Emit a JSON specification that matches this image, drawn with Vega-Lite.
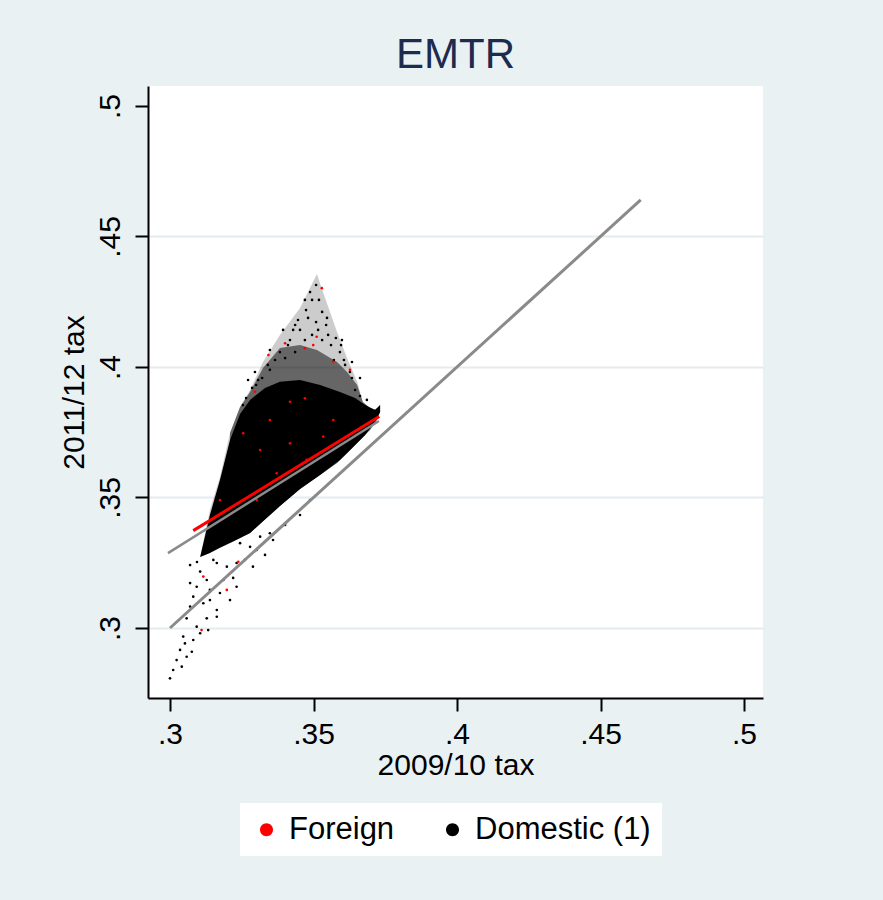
{
  "$schema": "https://vega.github.io/schema/vega-lite/v6.json",
  "width": 615, "height": 612,
  "autosize": {"type": "none"},
  "padding": {"left": 148, "top": 86, "right": 120, "bottom": 202},
  "background": "#E9F1F3",
  "title": {"text": "EMTR", "fontSize": 42, "font": "Liberation Sans", "fontWeight": "normal",
            "color": "#1C2B4E", "anchor": "middle", "offset": 9},
  "config": {
    "view": {"fill": "white", "stroke": null},
    "axis": {"domainColor": "black", "domainWidth": 2, "tickColor": "black", "tickWidth": 2, "tickSize": 13,
             "labelFont": "Liberation Sans", "labelFontSize": 30, "labelColor": "black",
             "titleFont": "Liberation Sans", "titleFontSize": 30, "titleFontWeight": "normal", "titleColor": "black"},
    "legend": {"orient": "none", "legendX": 92, "legendY": 717, "direction": "horizontal",
               "fillColor": "white", "padding": 11, "labelFont": "Liberation Sans", "labelFontSize": 31,
               "labelColor": "black", "labelLimit": 500,
               "symbolType": "M-1.3,0A1.3,1.3 0 1,0 1.3,0A1.3,1.3 0 1,0 -1.3,0",
               "labelOffset": 7, "columnPadding": 42, "symbolStrokeWidth": 0}
  },
  "datasets": {
    "speckle": [
      {"x": 0.3105, "y": 0.3272, "y2": 0.3272},
      {"x": 0.3139, "y": 0.3452, "y2": 0.3287},
      {"x": 0.3174, "y": 0.3579, "y2": 0.3307},
      {"x": 0.3209, "y": 0.3747, "y2": 0.3326},
      {"x": 0.3244, "y": 0.3847, "y2": 0.3345},
      {"x": 0.3279, "y": 0.3912, "y2": 0.3364},
      {"x": 0.3324, "y": 0.4019, "y2": 0.3410},
      {"x": 0.3383, "y": 0.4123, "y2": 0.3467},
      {"x": 0.3453, "y": 0.4226, "y2": 0.3533},
      {"x": 0.3512, "y": 0.4356, "y2": 0.3579},
      {"x": 0.3533, "y": 0.4287, "y2": 0.3594},
      {"x": 0.3582, "y": 0.4134, "y2": 0.3632},
      {"x": 0.3617, "y": 0.4034, "y2": 0.3670},
      {"x": 0.3652, "y": 0.3943, "y2": 0.3709},
      {"x": 0.3672, "y": 0.3866, "y2": 0.3732},
      {"x": 0.3697, "y": 0.3843, "y2": 0.3759},
      {"x": 0.3721, "y": 0.3835, "y2": 0.3797},
      {"x": 0.3732, "y": 0.3854, "y2": 0.3828}
    ],
    "mid": [
      {"x": 0.3209, "y": 0.3747, "y2": 0.3326},
      {"x": 0.3244, "y": 0.3847, "y2": 0.3345},
      {"x": 0.3279, "y": 0.3904, "y2": 0.3364},
      {"x": 0.3324, "y": 0.3996, "y2": 0.3410},
      {"x": 0.3383, "y": 0.4073, "y2": 0.3467},
      {"x": 0.3453, "y": 0.4084, "y2": 0.3533},
      {"x": 0.3512, "y": 0.4065, "y2": 0.3579},
      {"x": 0.3582, "y": 0.4019, "y2": 0.3632},
      {"x": 0.3617, "y": 0.3981, "y2": 0.3670},
      {"x": 0.3652, "y": 0.3931, "y2": 0.3709},
      {"x": 0.3672, "y": 0.3866, "y2": 0.3732},
      {"x": 0.3697, "y": 0.3843, "y2": 0.3759},
      {"x": 0.3721, "y": 0.3835, "y2": 0.3797},
      {"x": 0.3732, "y": 0.3854, "y2": 0.3828}
    ],
    "dense": [
      {"x": 0.3105, "y": 0.3272, "y2": 0.3272},
      {"x": 0.3139, "y": 0.3433, "y2": 0.3287},
      {"x": 0.3174, "y": 0.3567, "y2": 0.3307},
      {"x": 0.3209, "y": 0.3720, "y2": 0.3326},
      {"x": 0.3244, "y": 0.3820, "y2": 0.3345},
      {"x": 0.3279, "y": 0.3874, "y2": 0.3364},
      {"x": 0.3331, "y": 0.3920, "y2": 0.3416},
      {"x": 0.3383, "y": 0.3943, "y2": 0.3467},
      {"x": 0.3453, "y": 0.3950, "y2": 0.3533},
      {"x": 0.3523, "y": 0.3931, "y2": 0.3586},
      {"x": 0.3592, "y": 0.3904, "y2": 0.3644},
      {"x": 0.3645, "y": 0.3881, "y2": 0.3701},
      {"x": 0.3680, "y": 0.3854, "y2": 0.3739},
      {"x": 0.3714, "y": 0.3835, "y2": 0.3789},
      {"x": 0.3732, "y": 0.3854, "y2": 0.3828}
    ],
    "dots": [
      {"x": 0.3163, "y": 0.3249, "group": "Domestic (1)"},
      {"x": 0.3198, "y": 0.3235, "group": "Domestic (1)"},
      {"x": 0.3232, "y": 0.3249, "group": "Domestic (1)"},
      {"x": 0.3279, "y": 0.3311, "group": "Domestic (1)"},
      {"x": 0.3314, "y": 0.3350, "group": "Domestic (1)"},
      {"x": 0.3359, "y": 0.3337, "group": "Domestic (1)"},
      {"x": 0.3289, "y": 0.3235, "group": "Domestic (1)"},
      {"x": 0.3105, "y": 0.3216, "group": "Domestic (1)"},
      {"x": 0.3128, "y": 0.3184, "group": "Domestic (1)"},
      {"x": 0.3093, "y": 0.3158, "group": "Domestic (1)"},
      {"x": 0.3139, "y": 0.3146, "group": "Domestic (1)"},
      {"x": 0.3081, "y": 0.3120, "group": "Domestic (1)"},
      {"x": 0.3174, "y": 0.3134, "group": "Domestic (1)"},
      {"x": 0.3220, "y": 0.3192, "group": "Domestic (1)"},
      {"x": 0.3070, "y": 0.3082, "group": "Domestic (1)"},
      {"x": 0.3116, "y": 0.3095, "group": "Domestic (1)"},
      {"x": 0.3163, "y": 0.3069, "group": "Domestic (1)"},
      {"x": 0.3058, "y": 0.3037, "group": "Domestic (1)"},
      {"x": 0.3128, "y": 0.3037, "group": "Domestic (1)"},
      {"x": 0.3093, "y": 0.3005, "group": "Domestic (1)"},
      {"x": 0.3046, "y": 0.2967, "group": "Domestic (1)"},
      {"x": 0.3081, "y": 0.2954, "group": "Domestic (1)"},
      {"x": 0.3105, "y": 0.2980, "group": "Domestic (1)"},
      {"x": 0.3035, "y": 0.2916, "group": "Domestic (1)"},
      {"x": 0.3058, "y": 0.2890, "group": "Domestic (1)"},
      {"x": 0.3023, "y": 0.2877, "group": "Domestic (1)"},
      {"x": 0.3011, "y": 0.2839, "group": "Domestic (1)"},
      {"x": 0.3000, "y": 0.2807, "group": "Domestic (1)"},
      {"x": 0.3041, "y": 0.2852, "group": "Domestic (1)"},
      {"x": 0.3232, "y": 0.3158, "group": "Domestic (1)"},
      {"x": 0.3209, "y": 0.3107, "group": "Domestic (1)"},
      {"x": 0.3139, "y": 0.3107, "group": "Domestic (1)"},
      {"x": 0.3070, "y": 0.3172, "group": "Domestic (1)"},
      {"x": 0.3186, "y": 0.3184, "group": "Domestic (1)"},
      {"x": 0.3151, "y": 0.3261, "group": "Domestic (1)"},
      {"x": 0.3244, "y": 0.3325, "group": "Domestic (1)"},
      {"x": 0.3302, "y": 0.3299, "group": "Domestic (1)"},
      {"x": 0.3348, "y": 0.3363, "group": "Domestic (1)"},
      {"x": 0.3163, "y": 0.3043, "group": "Domestic (1)"},
      {"x": 0.3133, "y": 0.2992, "group": "Domestic (1)"},
      {"x": 0.3052, "y": 0.2941, "group": "Domestic (1)"},
      {"x": 0.3076, "y": 0.2909, "group": "Domestic (1)"},
      {"x": 0.3401, "y": 0.3395, "group": "Domestic (1)"},
      {"x": 0.3453, "y": 0.3433, "group": "Domestic (1)"},
      {"x": 0.3488, "y": 0.3490, "group": "Domestic (1)"},
      {"x": 0.3331, "y": 0.3280, "group": "Domestic (1)"},
      {"x": 0.3261, "y": 0.3261, "group": "Domestic (1)"},
      {"x": 0.3070, "y": 0.3241, "group": "Domestic (1)"},
      {"x": 0.3094, "y": 0.3253, "group": "Domestic (1)"},
      {"x": 0.3509, "y": 0.4314, "group": "Domestic (1)"},
      {"x": 0.3519, "y": 0.4257, "group": "Domestic (1)"},
      {"x": 0.3495, "y": 0.4257, "group": "Domestic (1)"},
      {"x": 0.3530, "y": 0.4211, "group": "Domestic (1)"},
      {"x": 0.3481, "y": 0.4188, "group": "Domestic (1)"},
      {"x": 0.3509, "y": 0.4172, "group": "Domestic (1)"},
      {"x": 0.3544, "y": 0.4161, "group": "Domestic (1)"},
      {"x": 0.3453, "y": 0.4142, "group": "Domestic (1)"},
      {"x": 0.3495, "y": 0.4123, "group": "Domestic (1)"},
      {"x": 0.3530, "y": 0.4103, "group": "Domestic (1)"},
      {"x": 0.3561, "y": 0.4084, "group": "Domestic (1)"},
      {"x": 0.3418, "y": 0.4103, "group": "Domestic (1)"},
      {"x": 0.3470, "y": 0.4103, "group": "Domestic (1)"},
      {"x": 0.3436, "y": 0.4057, "group": "Domestic (1)"},
      {"x": 0.3401, "y": 0.4034, "group": "Domestic (1)"},
      {"x": 0.3366, "y": 0.4027, "group": "Domestic (1)"},
      {"x": 0.3348, "y": 0.3989, "group": "Domestic (1)"},
      {"x": 0.3321, "y": 0.3958, "group": "Domestic (1)"},
      {"x": 0.3300, "y": 0.3931, "group": "Domestic (1)"},
      {"x": 0.3592, "y": 0.4057, "group": "Domestic (1)"},
      {"x": 0.3571, "y": 0.4027, "group": "Domestic (1)"},
      {"x": 0.3551, "y": 0.4123, "group": "Domestic (1)"},
      {"x": 0.3516, "y": 0.4142, "group": "Domestic (1)"},
      {"x": 0.3596, "y": 0.4084, "group": "Domestic (1)"},
      {"x": 0.3610, "y": 0.4008, "group": "Domestic (1)"},
      {"x": 0.3627, "y": 0.3981, "group": "Domestic (1)"},
      {"x": 0.3634, "y": 0.3958, "group": "Domestic (1)"},
      {"x": 0.3645, "y": 0.3912, "group": "Domestic (1)"},
      {"x": 0.3662, "y": 0.3889, "group": "Domestic (1)"},
      {"x": 0.3429, "y": 0.4142, "group": "Domestic (1)"},
      {"x": 0.3446, "y": 0.4180, "group": "Domestic (1)"},
      {"x": 0.3474, "y": 0.4218, "group": "Domestic (1)"},
      {"x": 0.3488, "y": 0.4287, "group": "Domestic (1)"},
      {"x": 0.3411, "y": 0.4084, "group": "Domestic (1)"},
      {"x": 0.3383, "y": 0.4057, "group": "Domestic (1)"},
      {"x": 0.3341, "y": 0.4008, "group": "Domestic (1)"},
      {"x": 0.3307, "y": 0.3950, "group": "Domestic (1)"},
      {"x": 0.3286, "y": 0.3920, "group": "Domestic (1)"},
      {"x": 0.3265, "y": 0.3881, "group": "Domestic (1)"},
      {"x": 0.3254, "y": 0.3854, "group": "Domestic (1)"},
      {"x": 0.3547, "y": 0.4188, "group": "Domestic (1)"},
      {"x": 0.3578, "y": 0.4111, "group": "Domestic (1)"},
      {"x": 0.3606, "y": 0.4027, "group": "Domestic (1)"},
      {"x": 0.3470, "y": 0.4257, "group": "Domestic (1)"},
      {"x": 0.3436, "y": 0.4161, "group": "Domestic (1)"},
      {"x": 0.3394, "y": 0.4142, "group": "Domestic (1)"},
      {"x": 0.3348, "y": 0.4065, "group": "Domestic (1)"},
      {"x": 0.3296, "y": 0.3981, "group": "Domestic (1)"},
      {"x": 0.3599, "y": 0.4103, "group": "Domestic (1)"},
      {"x": 0.3634, "y": 0.4019, "group": "Domestic (1)"},
      {"x": 0.3662, "y": 0.3958, "group": "Domestic (1)"},
      {"x": 0.3686, "y": 0.3874, "group": "Domestic (1)"},
      {"x": 0.3272, "y": 0.3950, "group": "Domestic (1)"},
      {"x": 0.3116, "y": 0.3197, "group": "Foreign"},
      {"x": 0.3198, "y": 0.3146, "group": "Foreign"},
      {"x": 0.3110, "y": 0.2992, "group": "Foreign"},
      {"x": 0.3238, "y": 0.3254, "group": "Foreign"},
      {"x": 0.3529, "y": 0.4302, "group": "Foreign"},
      {"x": 0.3470, "y": 0.4072, "group": "Foreign"},
      {"x": 0.3499, "y": 0.4084, "group": "Foreign"},
      {"x": 0.3343, "y": 0.4046, "group": "Foreign"},
      {"x": 0.3401, "y": 0.4091, "group": "Foreign"},
      {"x": 0.3511, "y": 0.4116, "group": "Foreign"},
      {"x": 0.3569, "y": 0.4020, "group": "Foreign"},
      {"x": 0.3296, "y": 0.3905, "group": "Foreign"},
      {"x": 0.3418, "y": 0.3867, "group": "Foreign"},
      {"x": 0.3470, "y": 0.3880, "group": "Foreign"},
      {"x": 0.3627, "y": 0.3989, "group": "Foreign"},
      {"x": 0.3348, "y": 0.3797, "group": "Foreign"},
      {"x": 0.3418, "y": 0.3708, "group": "Foreign"},
      {"x": 0.3314, "y": 0.3682, "group": "Foreign"},
      {"x": 0.3476, "y": 0.3644, "group": "Foreign"},
      {"x": 0.3372, "y": 0.3593, "group": "Foreign"},
      {"x": 0.3534, "y": 0.3733, "group": "Foreign"},
      {"x": 0.3255, "y": 0.3746, "group": "Foreign"},
      {"x": 0.3569, "y": 0.3797, "group": "Foreign"},
      {"x": 0.3174, "y": 0.3490, "group": "Foreign"},
      {"x": 0.3302, "y": 0.3490, "group": "Foreign"}
    ],
    "diag": [{"x": 0.3, "y": 0.3}, {"x": 0.464, "y": 0.464}],
    "fit": [{"x": 0.2993, "y": 0.3287}, {"x": 0.3728, "y": 0.3793}],
    "fitForeign": [{"x": 0.3081, "y": 0.3373}, {"x": 0.3729, "y": 0.3810}]
  },
  "encoding": {
    "x": {"field": "x", "type": "quantitative",
          "scale": {"domain": [0.29233, 0.50662], "nice": false, "zero": false},
          "axis": {"values": [0.3, 0.35, 0.4, 0.45, 0.5], "format": "~g", "labelExpr": "substring(datum.label, 1)",
                   "grid": false, "labelFlush": false, "labelPadding": 8, "titlePadding": 1, "title": "2009/10 tax"}},
    "y": {"field": "y", "type": "quantitative",
          "scale": {"domain": [0.27318, 0.50766], "nice": false, "zero": false},
          "axis": {"values": [0.3, 0.35, 0.4, 0.45, 0.5], "format": "~g", "labelExpr": "substring(datum.label, 1)",
                   "labelAngle": -90, "labelAlign": "center", "labelBaseline": "bottom", "labelPadding": 10,
                   "grid": true, "gridColor": "#E4ECEF", "gridWidth": 2,
                   "gridOpacity": {"condition": {"test": "datum.value > 0.49", "value": 0}, "value": 1},
                   "title": "2011/12 tax", "titlePadding": 6}}
  },
  "layer": [
    {"data": {"name": "speckle"}, "mark": {"type": "area", "color": "black", "opacity": 0.2},
     "encoding": {"y2": {"field": "y2"}}},
    {"data": {"name": "mid"}, "mark": {"type": "area", "color": "black", "opacity": 0.5},
     "encoding": {"y2": {"field": "y2"}}},
    {"data": {"name": "dense"}, "mark": {"type": "area", "color": "black", "opacity": 1},
     "encoding": {"y2": {"field": "y2"}}},
    {"data": {"name": "dots"}, "mark": {"type": "point", "filled": true, "size": 7, "opacity": 1},
     "encoding": {
       "color": {"field": "group", "type": "nominal",
                 "scale": {"domain": ["Foreign", "Domestic (1)"], "range": ["#FF0000", "#000000"]},
                 "legend": {"title": null}}
     }},
    {"data": {"name": "diag"}, "mark": {"type": "line", "color": "#8A8A8A", "strokeWidth": 3}, "encoding": {}},
    {"data": {"name": "fit"}, "mark": {"type": "line", "color": "#8A8A8A", "strokeWidth": 2.5}, "encoding": {}},
    {"data": {"name": "fitForeign"}, "mark": {"type": "line", "color": "#FF0000", "strokeWidth": 3}, "encoding": {}}
  ]
}
